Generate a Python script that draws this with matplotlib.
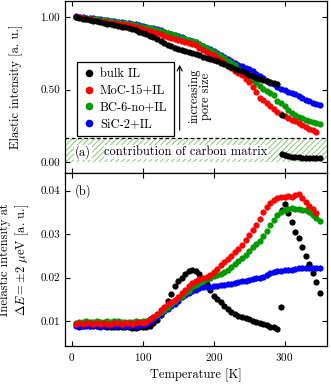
import numpy as np
import matplotlib
matplotlib.use("Agg")
import matplotlib.pyplot as plt
from matplotlib.lines import Line2D
from matplotlib.patches import Rectangle

plt.rcParams['font.family'] = ['cmr10', 'DejaVu Serif']
plt.rcParams['mathtext.fontset'] = 'cm'
plt.rcParams['axes.formatter.use_mathtext'] = True
plt.rcParams['axes.unicode_minus'] = False
plt.rcParams['font.size'] = 9
plt.rcParams['hatch.linewidth'] = 0.7

# temperature grid [K]
T = np.arange(5, 355, 5)

# ---- elastic intensity (a) ----
el_bulk = [1.00, 0.995, 0.99, 0.985, 0.98, 0.975, 0.97, 0.965, 0.96, 0.955,
           0.95, 0.945, 0.94, 0.935, 0.93, 0.925, 0.92, 0.91, 0.90, 0.89,
           0.88, 0.87, 0.86, 0.85, 0.835, 0.82, 0.81, 0.80, 0.79, 0.78,
           0.775, 0.765, 0.76, 0.75, 0.745, 0.735, 0.728, 0.72, 0.712, 0.703,
           0.695, 0.685, 0.675, 0.665, 0.655, 0.645, 0.635, 0.625, 0.615, 0.603,
           0.592, 0.582, 0.573, 0.565, 0.558, 0.552, 0.546, 0.54]
T_bulk_hi = [296, 300, 305, 310, 315, 320, 325, 330, 335, 340, 345, 350]
el_bulk_hi = [0.053, 0.045, 0.040, 0.036, 0.034, 0.032, 0.030, 0.029, 0.028, 0.027, 0.026, 0.025]
T_bulk_odd = [296]
el_bulk_odd = [0.326]

el_moc = [1.00, 0.998, 0.993, 0.99, 0.985, 0.98, 0.975, 0.97, 0.967, 0.963,
          0.96, 0.957, 0.953, 0.95, 0.947, 0.943, 0.938, 0.932, 0.925, 0.917,
          0.91, 0.903, 0.895, 0.888, 0.88, 0.872, 0.865, 0.857, 0.85, 0.843,
          0.835, 0.828, 0.82, 0.815, 0.805, 0.79, 0.775, 0.76, 0.745, 0.735,
          0.72, 0.705, 0.685, 0.665, 0.65, 0.63, 0.615, 0.60, 0.57, 0.555,
          0.52, 0.485, 0.445, 0.425, 0.405, 0.385, 0.365, 0.345, 0.328, 0.315,
          0.303, 0.292, 0.281, 0.268, 0.255, 0.243, 0.23, 0.218, 0.208]

el_bc = [1.00, 1.00, 0.997, 0.993, 0.99, 0.987, 0.984, 0.98, 0.977, 0.973,
         0.97, 0.967, 0.963, 0.96, 0.957, 0.953, 0.95, 0.945, 0.94, 0.935,
         0.93, 0.925, 0.92, 0.913, 0.905, 0.897, 0.89, 0.882, 0.873, 0.865,
         0.857, 0.848, 0.84, 0.835, 0.825, 0.815, 0.80, 0.787, 0.773, 0.76,
         0.745, 0.73, 0.715, 0.70, 0.685, 0.67, 0.64, 0.62, 0.60, 0.585,
         0.565, 0.545, 0.525, 0.505, 0.49, 0.475, 0.465, 0.42, 0.41, 0.385,
         0.36, 0.34, 0.325, 0.312, 0.302, 0.292, 0.283, 0.276, 0.27, 0.265]

el_sic = [1.005, 1.003, 1.00, 0.997, 0.994, 0.991, 0.988, 0.985, 0.982, 0.978,
          0.975, 0.971, 0.968, 0.965, 0.961, 0.958, 0.955, 0.95, 0.945, 0.94,
          0.934, 0.928, 0.922, 0.915, 0.908, 0.90, 0.892, 0.884, 0.876, 0.868,
          0.86, 0.851, 0.843, 0.836, 0.826, 0.815, 0.802, 0.79, 0.777, 0.765,
          0.75, 0.74, 0.725, 0.71, 0.70, 0.685, 0.672, 0.662, 0.652, 0.64,
          0.626, 0.61, 0.595, 0.578, 0.562, 0.548, 0.535, 0.52, 0.507, 0.496,
          0.486, 0.476, 0.466, 0.455, 0.443, 0.43, 0.418, 0.407, 0.398, 0.39]

# ---- inelastic intensity (b) ----
in_bulk = [0.0093, 0.0090, 0.0089, 0.0090, 0.0088, 0.0089, 0.0088, 0.0087, 0.0088, 0.0087,
           0.0086, 0.0087, 0.0086, 0.0086, 0.0085, 0.0086, 0.0084, 0.0083, 0.0086, 0.0085,
           0.0086, 0.0089, 0.0095, 0.0103, 0.0114, 0.0128, 0.0145, 0.0163, 0.0180, 0.0192,
           0.0200, 0.0208, 0.0214, 0.0218, 0.0216, 0.0208, 0.0196, 0.0185, 0.0172, 0.0158,
           0.0150, 0.0143, 0.0135, 0.0128, 0.0121, 0.0116, 0.0112, 0.0109, 0.0107, 0.0104,
           0.0100, 0.0097, 0.0095, 0.0093, 0.0090, 0.0087, 0.0085, 0.0082]
T_in_bulk_hi = [297, 300, 305, 310, 315, 320, 325, 330, 335, 340, 345, 350]
in_bulk_hi = [0.0355, 0.0370, 0.0348, 0.0328, 0.0305, 0.0290, 0.0270, 0.0250, 0.0232, 0.0211, 0.0190, 0.0165]
T_in_bulk_odd = [295]
in_bulk_odd = [0.0133]

in_moc = [0.0092, 0.0095, 0.0094, 0.0096, 0.0095, 0.0093, 0.0096, 0.0094, 0.0095, 0.0093,
          0.0094, 0.0096, 0.0095, 0.0094, 0.0096, 0.0095, 0.0094, 0.0096, 0.0097, 0.0096,
          0.0098, 0.0105, 0.0110, 0.0117, 0.0125, 0.0132, 0.0138, 0.0143, 0.0148, 0.0155,
          0.0164, 0.0172, 0.0180, 0.0188, 0.0193, 0.0197, 0.0199, 0.0202, 0.0206, 0.0213,
          0.0220, 0.0228, 0.0236, 0.0242, 0.0250, 0.0258, 0.0266, 0.0276, 0.0287, 0.0298,
          0.0310, 0.0322, 0.0335, 0.0350, 0.0362, 0.0372, 0.0378, 0.0382, 0.0385, 0.0385,
          0.0387, 0.0386, 0.0389, 0.0392, 0.0382, 0.0373, 0.0365, 0.0357, 0.0348]

in_bc = [0.0096, 0.0098, 0.0097, 0.0099, 0.0098, 0.0097, 0.0099, 0.0098, 0.0097, 0.0099,
         0.0098, 0.0100, 0.0099, 0.0098, 0.0097, 0.0098, 0.0097, 0.0099, 0.0098, 0.0099,
         0.0100, 0.0104, 0.0108, 0.0114, 0.0120, 0.0126, 0.0133, 0.0140, 0.0147, 0.0153,
         0.0158, 0.0164, 0.0170, 0.0177, 0.0183, 0.0188, 0.0192, 0.0196, 0.0199, 0.0203,
         0.0206, 0.0209, 0.0213, 0.0218, 0.0225, 0.0231, 0.0237, 0.0244, 0.0252, 0.0260,
         0.0270, 0.0278, 0.0285, 0.0295, 0.0306, 0.0320, 0.0333, 0.0345, 0.0352, 0.0355,
         0.0358, 0.0360, 0.0358, 0.0357, 0.0356, 0.0355, 0.0350, 0.0344, 0.0336, 0.0330]

in_sic = [0.0089, 0.0087, 0.0088, 0.0089, 0.0088, 0.0090, 0.0089, 0.0088, 0.0089, 0.0090,
          0.0089, 0.0088, 0.0090, 0.0089, 0.0088, 0.0089, 0.0090, 0.0089, 0.0090, 0.0091,
          0.0093, 0.0098, 0.0104, 0.0110, 0.0116, 0.0122, 0.0128, 0.0134, 0.0140, 0.0147,
          0.0154, 0.0160, 0.0165, 0.0170, 0.0172, 0.0175, 0.0177, 0.0178, 0.0179, 0.0180,
          0.0181, 0.0182, 0.0183, 0.0184, 0.0186, 0.0188, 0.0189, 0.0191, 0.0193, 0.0195,
          0.0197, 0.0198, 0.0199, 0.0202, 0.0206, 0.0210, 0.0213, 0.0214, 0.0216, 0.0217,
          0.0218, 0.0218, 0.0220, 0.0221, 0.0222, 0.0222, 0.0221, 0.0222, 0.0223, 0.0222]

err_moc = 0.0006
err_bc = 0.0006
err_sic = 0.0006

labels = ["bulk IL", "MoC-15+IL", "BC-6-no+IL", "SiC-2+IL"]
c_bulk, c_moc, c_bc, c_sic = "black", "#ff0000", "#009900", "#0000ff"

fig = plt.figure(figsize=(3.31, 3.85), dpi=100)
ax1 = fig.add_axes([0.196, 0.551, 0.792, 0.446])
ax2 = fig.add_axes([0.196, 0.101, 0.792, 0.450])

ms = 4.5
# top panel
ax1.plot(T[:len(el_sic)], el_sic, 'o', color=c_sic, ms=ms, mew=0)
ax1.plot(T[:len(el_bc)], el_bc, 'o', color=c_bc, ms=ms, mew=0)
ax1.plot(T[:len(el_moc)], el_moc, 'o', color=c_moc, ms=ms, mew=0)
ax1.plot(T[:len(el_bulk)], el_bulk, 'o', color=c_bulk, ms=ms, mew=0)
ax1.plot(T_bulk_hi, el_bulk_hi, 'o', color=c_bulk, ms=ms, mew=0)
ax1.plot(T_bulk_odd, el_bulk_odd, 'o', color=c_bulk, ms=ms, mew=0)

# carbon matrix band
ax1.add_patch(Rectangle((-10, 0), 370, 0.165, facecolor='none', edgecolor='#8cc47a',
                        hatch='//////', lw=0, zorder=0))
ax1.axhline(0.165, color='black', ls='--', lw=0.9, dashes=(3, 2))
ax1.text(4, 0.065, "(a)", ha='left', va='center',
         bbox=dict(facecolor='white', edgecolor='none', pad=0.5))
ax1.text(161, 0.07, "contribution of carbon matrix", ha='center', va='center',
         bbox=dict(facecolor='white', edgecolor='none', pad=0.5))

ax1.annotate("", xy=(152, 0.69), xytext=(152, 0.20),
             arrowprops=dict(arrowstyle='->', lw=0.8, color='black'))
ax1.text(181, 0.455, "increasing\npore size", rotation=90, ha='center', va='center',
         linespacing=1.0)

handles = [Line2D([], [], marker='o', ls='none', color=c, ms=5.5, mew=0)
           for c in (c_bulk, c_moc, c_bc, c_sic)]
leg = ax1.legend(handles, labels, loc='upper left', bbox_to_anchor=(0.045, 0.645),
                 fancybox=False, edgecolor='black', framealpha=1, handletextpad=0.35,
                 handlelength=1.0, borderpad=0.5, labelspacing=0.35, fontsize=9,
                 borderaxespad=0)
leg.get_frame().set_linewidth(0.9)

ax1.set_xlim(-10, 360)
ax1.set_ylim(-0.075, 1.11)
ax1.set_yticks([0.0, 0.5, 1.0])
ax1.set_yticklabels(["0.00", "0.50", "1.00"])
ax1.set_xticks([0, 100, 200, 300])
ax1.set_xticklabels([])
ax1.set_ylabel("Elastic intensity [a. u.]")
ax1.yaxis.set_label_coords(-0.16, 0.5)

# bottom panel
ax2.errorbar(T[:len(in_sic)], in_sic, yerr=err_sic, fmt='o', color=c_sic, ecolor='#6666ff',
             ms=ms, mew=0, elinewidth=0.6, capsize=1.5, capthick=0.6)
ax2.errorbar(T[:len(in_bc)], in_bc, yerr=err_bc, fmt='o', color=c_bc, ecolor='#66cc66',
             ms=ms, mew=0, elinewidth=0.6, capsize=1.5, capthick=0.6)
ax2.errorbar(T[:len(in_moc)], in_moc, yerr=err_moc, fmt='o', color=c_moc, ecolor='#ff6666',
             ms=ms, mew=0, elinewidth=0.6, capsize=1.5, capthick=0.6)
ax2.plot(T[:len(in_bulk)], in_bulk, 'o', color=c_bulk, ms=ms, mew=0)
ax2.plot(T_in_bulk_hi, in_bulk_hi, 'o', color=c_bulk, ms=ms, mew=0)
ax2.plot(T_in_bulk_odd, in_bulk_odd, 'o', color=c_bulk, ms=ms, mew=0)
ax2.text(4, 0.040, "(b)", ha='left', va='center')

ax2.set_xlim(-10, 360)
ax2.set_ylim(0.0042, 0.0441)
ax2.set_yticks([0.01, 0.02, 0.03, 0.04])
ax2.set_yticklabels(["0.01", "0.02", "0.03", "0.04"])
ax2.set_xticks([0, 100, 200, 300])
ax2.set_xlabel("Temperature [K]")
ax2.set_ylabel("Inelastic intensity at\n$\\Delta E = \\pm 2$ $\\mu$eV [a. u.]", linespacing=1.2)
ax2.yaxis.set_label_coords(-0.13, 0.5)

for ax in (ax1, ax2):
    ax.tick_params(direction='in', top=True, right=True, length=3.5, width=0.8, labelsize=8)
    for s in ax.spines.values():
        s.set_linewidth(0.9)

fig.savefig("out.png", dpi=100)
